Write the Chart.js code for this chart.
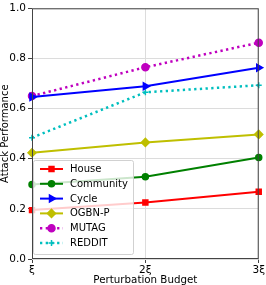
<!DOCTYPE html>
<html>
<head>
<meta charset="utf-8">
<script src="https://cdn.jsdelivr.net/npm/chart.js@4/dist/chart.umd.min.js"></script>
<style>
  html, body { margin: 0; padding: 0; background: #fff; }
  #wrap { width: 266px; height: 285px; }
</style>
</head>
<body>
<div id="wrap"><canvas id="chart"></canvas></div>
<script>
const budgets = ['ξ', '2ξ', '3ξ'];
const yTicks = [0, 0.2, 0.4, 0.6, 0.8, 1.0];
const house = [0.195, 0.225, 0.268];
const community = [0.297, 0.328, 0.405];
const cycle = [0.646, 0.689, 0.763];
const ogbnP = [0.424, 0.465, 0.497];
const mutag = [0.650, 0.765, 0.863];
const reddit = [0.484, 0.665, 0.693];

const FONT = 'DejaVu Sans';

const series = [
  { label: 'House', data: house, color: '#ff0000', point: 'rect', radius: 3.5, dash: [] },
  { label: 'Community', data: community, color: '#008000', point: 'circle', radius: 3, dash: [] },
  { label: 'Cycle', data: cycle, color: '#0000ff', point: 'triangle', rotation: 90, radius: 4, dash: [] },
  { label: 'OGBN-P', data: ogbnP, color: '#bfbf00', point: 'rectRot', radius: 4, dash: [] },
  { label: 'MUTAG', data: mutag, color: '#bf00bf', point: 'circle', radius: 3.5, dash: [2.3, 3.4] },
  { label: 'REDDIT', data: reddit, color: '#00bfbf', point: 'cross', radius: 3, dash: [2.3, 3.4] },
];

// matplotlib-like box around the axes
const frame = {
  id: 'frame',
  afterDatasetsDraw(chart) {
    const { ctx, chartArea: a } = chart;
    ctx.save();
    ctx.strokeStyle = '#444';
    ctx.lineWidth = 1;
    ctx.strokeRect(a.left + 0.5, a.top + 0.5, a.right - a.left - 1, a.bottom - a.top - 1);
    ctx.restore();
  }
};

// legend drawn inside the plot, lower left
const innerLegend = {
  id: 'innerLegend',
  afterDraw(chart) {
    const { ctx, chartArea: a } = chart;
    const x0 = a.left + 1, y0 = 160, w = 100, h = 94;
    ctx.save();
    ctx.fillStyle = 'rgba(255,255,255,0.8)';
    ctx.strokeStyle = 'rgba(204,204,204,0.9)';
    ctx.lineWidth = 1;
    ctx.beginPath();
    ctx.roundRect(x0 + 0.5, y0 + 0.5, w, h, 2);
    ctx.fill();
    ctx.stroke();
    chart.data.datasets.forEach((ds, i) => {
      const y = 169 + i * 14.8;
      ctx.strokeStyle = ds.borderColor;
      ctx.lineWidth = ds.borderWidth;
      ctx.setLineDash(ds.borderDash || []);
      ctx.beginPath();
      ctx.moveTo(40, y);
      ctx.lineTo(63, y);
      ctx.stroke();
      ctx.setLineDash([]);
      ctx.fillStyle = ds.borderColor;
      ctx.lineWidth = 1.5;
      Chart.helpers.drawPoint(ctx, {
        pointStyle: ds.pointStyle, rotation: ds.pointRotation || 0,
        radius: ds.pointRadius, borderWidth: 1.5
      }, 51.5, y);
      ctx.fillStyle = '#000';
      ctx.font = '10px "' + FONT + '"';
      ctx.textBaseline = 'middle';
      ctx.fillText(ds.label, 70, y + 0.5);
    });
    ctx.restore();
  }
};

new Chart(document.getElementById('chart'), {
  type: 'line',
  data: {
    labels: budgets,
    datasets: series.map(s => ({
      label: s.label,
      data: s.data,
      borderColor: s.color,
      backgroundColor: s.color,
      pointBackgroundColor: s.color,
      pointBorderColor: s.color,
      borderWidth: s.dash.length ? 2.5 : 2,
      borderDash: s.dash,
      pointStyle: s.point,
      pointRotation: s.rotation || 0,
      pointRadius: s.radius,
      pointBorderWidth: 1.5,
      tension: 0,
      fill: false,
    })),
  },
  plugins: [frame, innerLegend],
  options: {
    responsive: true,
    maintainAspectRatio: false,
    animation: false,
    layout: { padding: { top: 4, right: 6, left: 0, bottom: 0 } },
    plugins: { legend: { display: false }, tooltip: { enabled: false } },
    scales: {
      x: {
        offset: false,
        afterFit: axis => { axis.height = 26; },
        grid: { color: '#dcdcdc', tickColor: '#444', tickLength: 4 },
        border: { display: false },
        ticks: { color: '#000', padding: 1, maxRotation: 0, font: { family: FONT, size: 10.5 } },
        title: { display: true, text: 'Perturbation Budget', color: '#000', padding: 0, font: { family: FONT, size: 10.3, lineHeight: 1 } },
      },
      y: {
        min: 0,
        max: 1,
        afterFit: axis => { axis.width = 32; },
        afterBuildTicks: axis => { axis.ticks = yTicks.map(v => ({ value: v })); },
        grid: { color: '#dcdcdc', tickColor: '#444', tickLength: 4 },
        border: { display: false },
        ticks: { color: '#000', padding: 2, callback: v => v.toFixed(1), font: { family: FONT, size: 10.5 } },
        title: { display: true, text: 'Attack Performance', color: '#000', padding: 0, font: { family: FONT, size: 10, lineHeight: 1 } },
      },
    },
  },
});
</script>
</body>
</html>
